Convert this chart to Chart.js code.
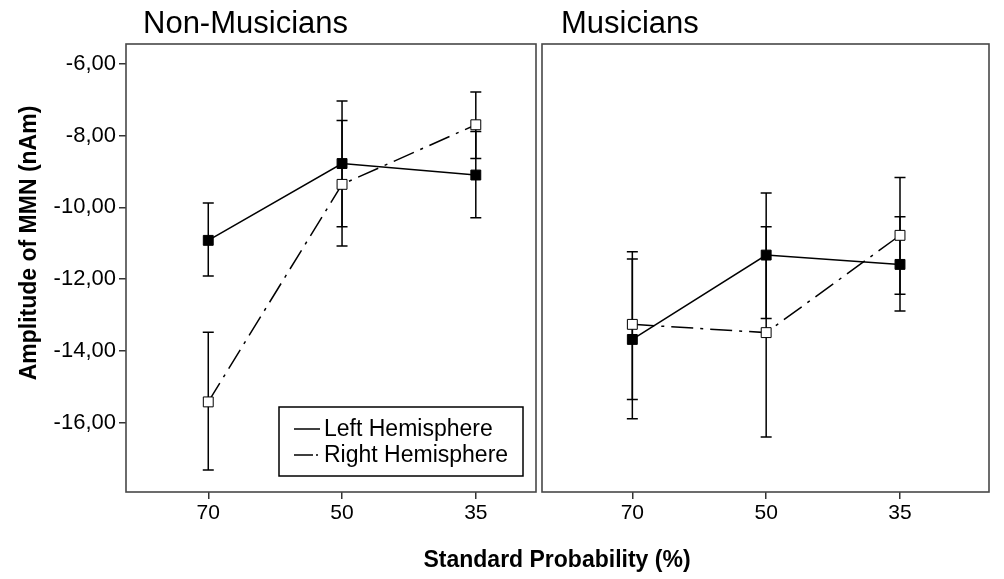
<!DOCTYPE html>
<html>
<head>
<meta charset="utf-8">
<script src="https://cdn.jsdelivr.net/npm/chart.js@4.4.0/dist/chart.umd.min.js"></script>
<style>
  html, body { margin: 0; padding: 0; background: #fff; }
  #wrap { position: relative; width: 1004px; height: 579px; }
  #wrap canvas { position: absolute; left: 0; top: 0; }
</style>
</head>
<body>
<div id="wrap">
  <canvas id="nonMus" width="1004" height="579"></canvas>
  <canvas id="mus" width="1004" height="579"></canvas>
</div>
<script>
var xLabels = ['70', '50', '35'];
var yTicks = [-16, -14, -12, -10, -8, -6];
var yTickLabels = ['-16,00', '-14,00', '-12,00', '-10,00', '-8,00', '-6,00'];
var panelTitles = ['Non-Musicians', 'Musicians'];
var seriesNames = ['Left Hemisphere', 'Right Hemisphere'];
var yTitle = 'Amplitude of MMN (nAm)';
var xTitle = 'Standard Probability (%)';

// Non-Musicians: means and error bar ends
var nonLeft      = [-10.92, -8.78, -9.10];
var nonLeftLow   = [-11.91, -10.54, -10.29];
var nonLeftHigh  = [-9.88, -7.04, -7.89];
var nonRight     = [-15.42, -9.36, -7.70];
var nonRightLow  = [-17.32, -11.08, -8.64];
var nonRightHigh = [-13.48, -7.58, -6.79];

// Musicians
var musLeft      = [-13.68, -11.33, -11.59];
var musLeftLow   = [-15.89, -13.10, -12.89];
var musLeftHigh  = [-11.44, -9.60, -10.26];
var musRight     = [-13.26, -13.49, -10.78];
var musRightLow  = [-15.35, -16.40, -12.42];
var musRightHigh = [-11.24, -10.54, -9.17];

Chart.defaults.font.family = '"Liberation Sans", Arial, sans-serif';
Chart.defaults.color = '#000';

var dashRight = [22, 7, 3, 7];
var FONT = '"Liberation Sans", Arial, sans-serif';

function pts(arr) {
  return arr.map(function(v, i) { return {x: i, y: v}; });
}

// error bars drawn under the markers
var errorBars = {
  id: 'errorBars',
  beforeDatasetsDraw: function(chart, args, opts) {
    var ctx = chart.ctx, xs = chart.scales.x, ys = chart.scales.y;
    ctx.save();
    ctx.strokeStyle = '#000';
    ctx.lineWidth = 1.5;
    opts.low.forEach(function(lowArr, d) {
      var highArr = opts.high[d];
      lowArr.forEach(function(lo, i) {
        var x = xs.getPixelForValue(i);
        var y1 = ys.getPixelForValue(lo), y2 = ys.getPixelForValue(highArr[i]);
        ctx.beginPath();
        ctx.moveTo(x, y1); ctx.lineTo(x, y2);
        ctx.moveTo(x - 5.5, y1); ctx.lineTo(x + 5.5, y1);
        ctx.moveTo(x - 5.5, y2); ctx.lineTo(x + 5.5, y2);
        ctx.stroke();
      });
    });
    ctx.restore();
  }
};

// box round the plot area, panel title, axis titles and legend
var decor = {
  id: 'decor',
  afterDraw: function(chart, args, opts) {
    var ctx = chart.ctx, a = chart.chartArea;
    ctx.save();
    ctx.strokeStyle = '#484848';
    ctx.lineWidth = 1.6;
    ctx.strokeRect(a.left, a.top, a.right - a.left, a.bottom - a.top);

    ctx.fillStyle = '#000';
    ctx.font = '31px ' + FONT;
    ctx.textBaseline = 'alphabetic';
    ctx.textAlign = 'left';
    ctx.fillText(opts.title, a.left + opts.titleOffset, 33);

    if (opts.yTitle) {
      ctx.save();
      ctx.translate(30, 243);
      ctx.rotate(-Math.PI / 2);
      ctx.font = 'bold 23px ' + FONT;
      ctx.textAlign = 'center';
      ctx.textBaseline = 'middle';
      ctx.fillText(opts.yTitle, 0, 0);
      ctx.restore();
    }
    if (opts.xTitle) {
      ctx.font = 'bold 23px ' + FONT;
      ctx.textAlign = 'center';
      ctx.textBaseline = 'alphabetic';
      ctx.fillText(opts.xTitle, 557, 567);
    }
    if (opts.legend) {
      var bx = a.right - 257, by = a.bottom - 85, bw = 244, bh = 69;
      ctx.fillStyle = '#fff';
      ctx.fillRect(bx, by, bw, bh);
      ctx.strokeStyle = '#000';
      ctx.lineWidth = 1.5;
      ctx.strokeRect(bx, by, bw, bh);
      ctx.font = '23px ' + FONT;
      ctx.textAlign = 'left';
      ctx.textBaseline = 'middle';
      ctx.fillStyle = '#000';
      chart.data.datasets.forEach(function(ds, i) {
        var ly = by + 22 + i * 26;
        ctx.beginPath();
        ctx.setLineDash(i === 0 ? [] : [19, 3, 2, 10]);
        ctx.moveTo(bx + 15, ly);
        ctx.lineTo(bx + 41, ly);
        ctx.stroke();
        ctx.setLineDash([]);
        ctx.fillText(ds.label, bx + 45, ly + 1);
      });
    }
    ctx.restore();
  }
};

function makeChart(id, left, right, low, high, xMin, xMax, pad, showY, deco) {
  return new Chart(document.getElementById(id), {
    type: 'line',
    data: {
      datasets: [{
        label: seriesNames[0],
        data: pts(left),
        borderColor: '#000',
        borderWidth: 1.5,
        pointStyle: 'rect',
        pointRadius: 7,
        pointBackgroundColor: '#000',
        pointBorderColor: '#000',
        pointBorderWidth: 1,
        tension: 0
      }, {
        label: seriesNames[1],
        data: pts(right),
        borderColor: '#000',
        borderWidth: 1.5,
        borderDash: dashRight,
        pointStyle: 'rect',
        pointRadius: 7,
        pointBackgroundColor: '#fff',
        pointBorderColor: '#000',
        pointBorderWidth: 1,
        tension: 0
      }]
    },
    options: {
      responsive: false,
      devicePixelRatio: 1,
      animation: false,
      events: [],
      layout: { padding: pad },
      scales: {
        x: {
          type: 'linear',
          min: xMin,
          max: xMax,
          afterFit: function(s) { s.height = 40; },
          afterBuildTicks: function(s) {
            s.ticks = xLabels.map(function(l, i) { return {value: i}; });
          },
          ticks: {
            callback: function(v) { return xLabels[v]; },
            font: { size: 21 },
            color: '#000',
            padding: 2,
            maxRotation: 0,
            autoSkip: false
          },
          grid: { drawOnChartArea: false, tickLength: 7, color: '#333', lineWidth: 1.5 },
          border: { display: false }
        },
        y: {
          display: showY,
          min: -17.93,
          max: -5.45,
          afterFit: function(s) { if (showY) s.width = 126; },
          afterBuildTicks: function(s) {
            s.ticks = yTicks.map(function(v) { return {value: v}; });
          },
          ticks: {
            callback: function(v) { return yTickLabels[yTicks.indexOf(v)]; },
            font: { size: 22 },
            color: '#000',
            padding: 3
          },
          grid: { drawOnChartArea: false, tickLength: 7, color: '#333', lineWidth: 1.5 },
          border: { display: false }
        }
      },
      plugins: {
        legend: { display: false },
        tooltip: { enabled: false },
        errorBars: { low: low, high: high },
        decor: deco
      }
    },
    plugins: [errorBars, decor]
  });
}

makeChart('nonMus', nonLeft, nonRight,
  [nonLeftLow, nonRightLow], [nonLeftHigh, nonRightHigh],
  -0.615, 2.45,
  { left: 0, right: 468, top: 44, bottom: 47 }, true,
  { title: panelTitles[0], titleOffset: 17, yTitle: yTitle, legend: true });

makeChart('mus', musLeft, musRight,
  [musLeftLow, musRightLow], [musLeftHigh, musRightHigh],
  -0.675, 2.665,
  { left: 542, right: 15, top: 44, bottom: 47 }, false,
  { title: panelTitles[1], titleOffset: 19, xTitle: xTitle, legend: false });
</script>
</body>
</html>
